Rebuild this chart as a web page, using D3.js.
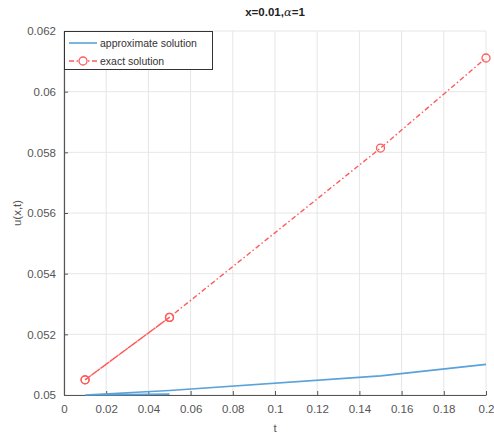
<!DOCTYPE html>
<html><head><meta charset="utf-8">
<script src="https://cdn.jsdelivr.net/npm/d3@7"></script>
<style>body{margin:0;background:#fff;} svg{display:block;font-family:"Liberation Sans",Arial,sans-serif;}</style>
</head><body>
<script>
const approxT = [0.01, 0.05, 0.01, 0.05, 0.15, 0.2];
const approxU = [0.05, 0.05003, 0.05, 0.05015, 0.05063, 0.05101];
const exactT = [0.01, 0.05, 0.01, 0.05, 0.15, 0.2];
const exactU = [0.0505, 0.05256, 0.0505, 0.05256, 0.05814, 0.06111];
const xTicks = [0, 0.02, 0.04, 0.06, 0.08, 0.1, 0.12, 0.14, 0.16, 0.18, 0.2];
const yTicks = [0.05, 0.052, 0.054, 0.056, 0.058, 0.06, 0.062];
const legendLabels = ["approximate solution", "exact solution"];

const W = 494, H = 437;
const m = {l: 64, r: 8, t: 31, b: 42};
const svg = d3.select("body").append("svg").attr("width", W).attr("height", H);
const x = d3.scaleLinear().domain([0, 0.2]).range([m.l, W - m.r]);
const y = d3.scaleLinear().domain([0.05, 0.062]).range([H - m.b, m.t]);

// grid
const g = svg.append("g");
g.selectAll(".gx").data(xTicks).join("line")
  .attr("x1", d => x(d)).attr("x2", d => x(d)).attr("y1", m.t).attr("y2", H - m.b)
  .attr("stroke", "#e6e6e6").attr("stroke-width", 1);
g.selectAll(".gy").data(yTicks).join("line")
  .attr("y1", d => y(d)).attr("y2", d => y(d)).attr("x1", m.l).attr("x2", W - m.r)
  .attr("stroke", "#e6e6e6").attr("stroke-width", 1);

// axes
const xa = svg.append("g").attr("transform", `translate(0,${H - m.b})`)
  .call(d3.axisBottom(x).tickValues(xTicks).tickSizeInner(-4).tickSizeOuter(0).tickPadding(10).tickFormat(d => d3.format("~g")(d)));
const ya = svg.append("g").attr("transform", `translate(${m.l},0)`)
  .call(d3.axisLeft(y).tickValues(yTicks).tickSizeInner(-4).tickSizeOuter(0).tickPadding(8).tickFormat(d => d3.format("~g")(d)));
[xa, ya].forEach(a => {
  a.select(".domain").attr("stroke", "#555").attr("stroke-width", 1.2);
  a.selectAll(".tick line").attr("stroke", "#555");
  a.selectAll("text").attr("fill", "#555").attr("font-size", 11.5);
});

// series
const approx = approxT.map((t, i) => [t, approxU[i]]);
const exact = exactT.map((t, i) => [t, exactU[i]]);
const line = d3.line().x(d => x(d[0])).y(d => y(d[1]));
svg.append("path").datum(approx).attr("d", line).attr("fill", "none")
  .attr("stroke", "#5aa2da").attr("stroke-width", 1.6);
svg.append("path").datum(exact).attr("d", line).attr("fill", "none")
  .attr("stroke", "#ff5a5a").attr("stroke-width", 1.4).attr("stroke-dasharray", "5,2.5,1.5,2.5");
svg.selectAll(".mk").data(exact).join("circle")
  .attr("cx", d => x(d[0])).attr("cy", d => y(d[1])).attr("r", 4)
  .attr("fill", "none").attr("stroke", "#ff5a5a").attr("stroke-width", 1.3);

// title
svg.append("text").attr("x", 275).attr("y", 16).attr("text-anchor", "middle")
  .attr("font-size", 11.5).attr("font-weight", "bold").attr("fill", "#222")
  .html('x=0.01,<tspan font-style="italic" font-family="DejaVu Serif, serif" font-weight="normal">α</tspan>=1');

// labels
svg.append("text").attr("x", x(0.1)).attr("y", 432).attr("text-anchor", "middle")
  .attr("font-size", 11.5).attr("fill", "#555").text("t");
svg.append("text").attr("transform", `translate(21,${(m.t + H - m.b) / 2}) rotate(-90)`)
  .attr("text-anchor", "middle").attr("font-size", 11.5).attr("fill", "#555").text("u(x,t)");

// legend
const lg = svg.append("g");
lg.append("rect").attr("x", m.l + 0.5).attr("y", m.t + 0.5).attr("width", 148).attr("height", 38)
  .attr("fill", "#fff").attr("stroke", "#333").attr("stroke-width", 1);
lg.append("line").attr("x1", 69).attr("x2", 97).attr("y1", 43).attr("y2", 43)
  .attr("stroke", "#5aa2da").attr("stroke-width", 1.6);
lg.append("line").attr("x1", 69).attr("x2", 97).attr("y1", 61).attr("y2", 61)
  .attr("stroke", "#ff5a5a").attr("stroke-width", 1.4).attr("stroke-dasharray", "5,2.5,1.5,2.5");
lg.append("circle").attr("cx", 83).attr("cy", 61).attr("r", 4).attr("fill", "#fff")
  .attr("stroke", "#ff5a5a").attr("stroke-width", 1.3);
lg.selectAll(".lt").data(legendLabels).join("text")
  .attr("x", 100).attr("y", (d, i) => 47 + i * 18).attr("font-size", 10.5).attr("fill", "#333").text(d => d);
</script>
</body></html>
